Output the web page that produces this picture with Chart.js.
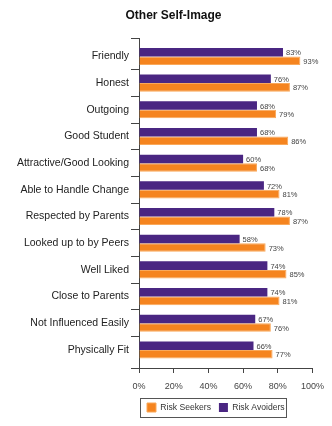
<!DOCTYPE html>
<html>
<head>
<meta charset="utf-8">
<script src="https://cdn.jsdelivr.net/npm/chart.js@4"></script>
<style>
  html, body { margin: 0; padding: 0; background: #fff; }
  #wrap { width: 332px; height: 426px; }
</style>
</head>
<body>
<div id="wrap"><canvas id="myChart"></canvas></div>
<script>
// categories and percentages
const traits = ["Friendly", "Honest", "Outgoing", "Good Student", "Attractive/Good Looking",
  "Able to Handle Change", "Respected by Parents", "Looked up to by Peers", "Well Liked",
  "Close to Parents", "Not Influenced Easily", "Physically Fit"];
const riskAvoiders = [83, 76, 68, 68, 60, 72, 78, 58, 74, 74, 67, 66];
const riskSeekers = [93, 87, 79, 86, 68, 81, 87, 73, 85, 81, 76, 77];
const xTicks = [0, 20, 40, 60, 80, 100];

const purple = "#4a2682";
const orange = "#f5841f";
const axisColor = "#444";

// writes the % value at the end of each bar
const valueLabels = {
  id: "valueLabels",
  afterDatasetsDraw(chart) {
    const ctx = chart.ctx;
    ctx.save();
    ctx.font = "7.5px 'Liberation Sans', Arial, sans-serif";
    ctx.fillStyle = "#444";
    ctx.textAlign = "left";
    ctx.textBaseline = "middle";
    chart.data.datasets.forEach((ds, d) => {
      chart.getDatasetMeta(d).data.forEach((bar, i) => {
        ctx.fillText(ds.data[i] + "%", bar.x + 3, bar.y + 1);
      });
    });
    ctx.restore();
  }
};

// nudges the title a bit to the right
const titleShift = {
  id: "titleShift",
  afterLayout(chart) {
    const t = chart.titleBlock;
    if (t) { t.left += 10; t.right += 10; }
  }
};

// end ticks on the y axis and the frame round the legend
const extras = {
  id: "extras",
  afterDraw(chart) {
    const ctx = chart.ctx;
    const area = chart.chartArea;
    ctx.save();
    ctx.strokeStyle = axisColor;
    ctx.lineWidth = 1;
    ctx.beginPath();
    ctx.moveTo(area.left - 8, Math.round(area.top) + 0.5);
    ctx.lineTo(area.left, Math.round(area.top) + 0.5);
    ctx.moveTo(area.left - 8, Math.round(area.bottom) + 0.5);
    ctx.lineTo(area.left, Math.round(area.bottom) + 0.5);
    ctx.stroke();

    const boxes = chart.legend.legendHitBoxes;
    if (boxes && boxes.length) {
      let l = Infinity, r = -Infinity, t = Infinity, b = -Infinity;
      boxes.forEach(h => {
        l = Math.min(l, h.left); r = Math.max(r, h.left + h.width);
        t = Math.min(t, h.top); b = Math.max(b, h.top + h.height);
      });
      ctx.strokeStyle = "#555";
      ctx.strokeRect(Math.round(l - 7) + 0.5, Math.round(t - 5) + 0.5,
        Math.round(r - l + 8), Math.round(b - t + 10));
    }
    ctx.restore();
  }
};

const ctx = document.getElementById("myChart");
const myChart = new Chart(ctx, {
  type: "bar",
  data: {
    labels: traits,
    datasets: [
      {
        label: "Risk Avoiders",
        data: riskAvoiders,
        backgroundColor: purple,
        borderColor: "#3a1c6a",
        borderWidth: 0,
      },
      {
        label: "Risk Seekers",
        data: riskSeekers,
        backgroundColor: orange,
        borderColor: "#f9a85a",
        borderWidth: 1,
      },
    ],
  },
  options: {
    indexAxis: "y",
    responsive: true,
    maintainAspectRatio: false,
    animation: false,
    datasets: { bar: { categoryPercentage: 0.64, barPercentage: 1.0 } },
    layout: { padding: { left: 10, right: 15, top: 0, bottom: 4 } },
    scales: {
      x: {
        min: 0,
        max: 100,
        afterBuildTicks: (scale) => {
          scale.ticks = xTicks.map(v => ({ value: v }));
        },
        afterFit: (scale) => { scale.height = 27; },
        grid: { drawOnChartArea: false, tickLength: 5, color: axisColor },
        border: { display: true, color: axisColor },
        ticks: {
          padding: 8,
          color: "#444",
          font: { family: "'Liberation Sans', Arial, sans-serif", size: 9 },
          callback: (v) => v + "%",
        },
      },
      y: {
        // leaves a little room above the first and below the last category
        afterBuildTicks: (scale) => {
          const pad = 0.176;
          scale._startValue -= pad;
          scale._valueRange += 2 * pad;
        },
        afterFit: (scale) => { scale.width = 129; },
        grid: {
          drawOnChartArea: false,
          offset: true,
          tickLength: 8,
          color: (c) => (c.type !== "tick" || c.index === 0) ? "rgba(0,0,0,0)" : axisColor,
        },
        border: { display: true, color: axisColor },
        ticks: {
          padding: 2,
          color: "#222",
          font: { family: "'Liberation Sans', Arial, sans-serif", size: 10.5 },
        },
      },
    },
    plugins: {
      title: {
        display: true,
        text: "Other Self-Image",
        color: "#111",
        font: { family: "'Liberation Sans', Arial, sans-serif", size: 12, weight: "bold" },
        padding: { top: 8, bottom: 16 },
      },
      legend: {
        position: "bottom",
        align: "start",
        fullSize: false,
        reverse: true,
        labels: {
          boxWidth: 9,
          boxHeight: 9,
          padding: 8,
          color: "#333",
          font: { family: "'Liberation Sans', Arial, sans-serif", size: 8.6 },
        },
      },
      tooltip: { enabled: false },
    },
  },
  plugins: [valueLabels, titleShift, extras],
});
</script>
</body>
</html>
